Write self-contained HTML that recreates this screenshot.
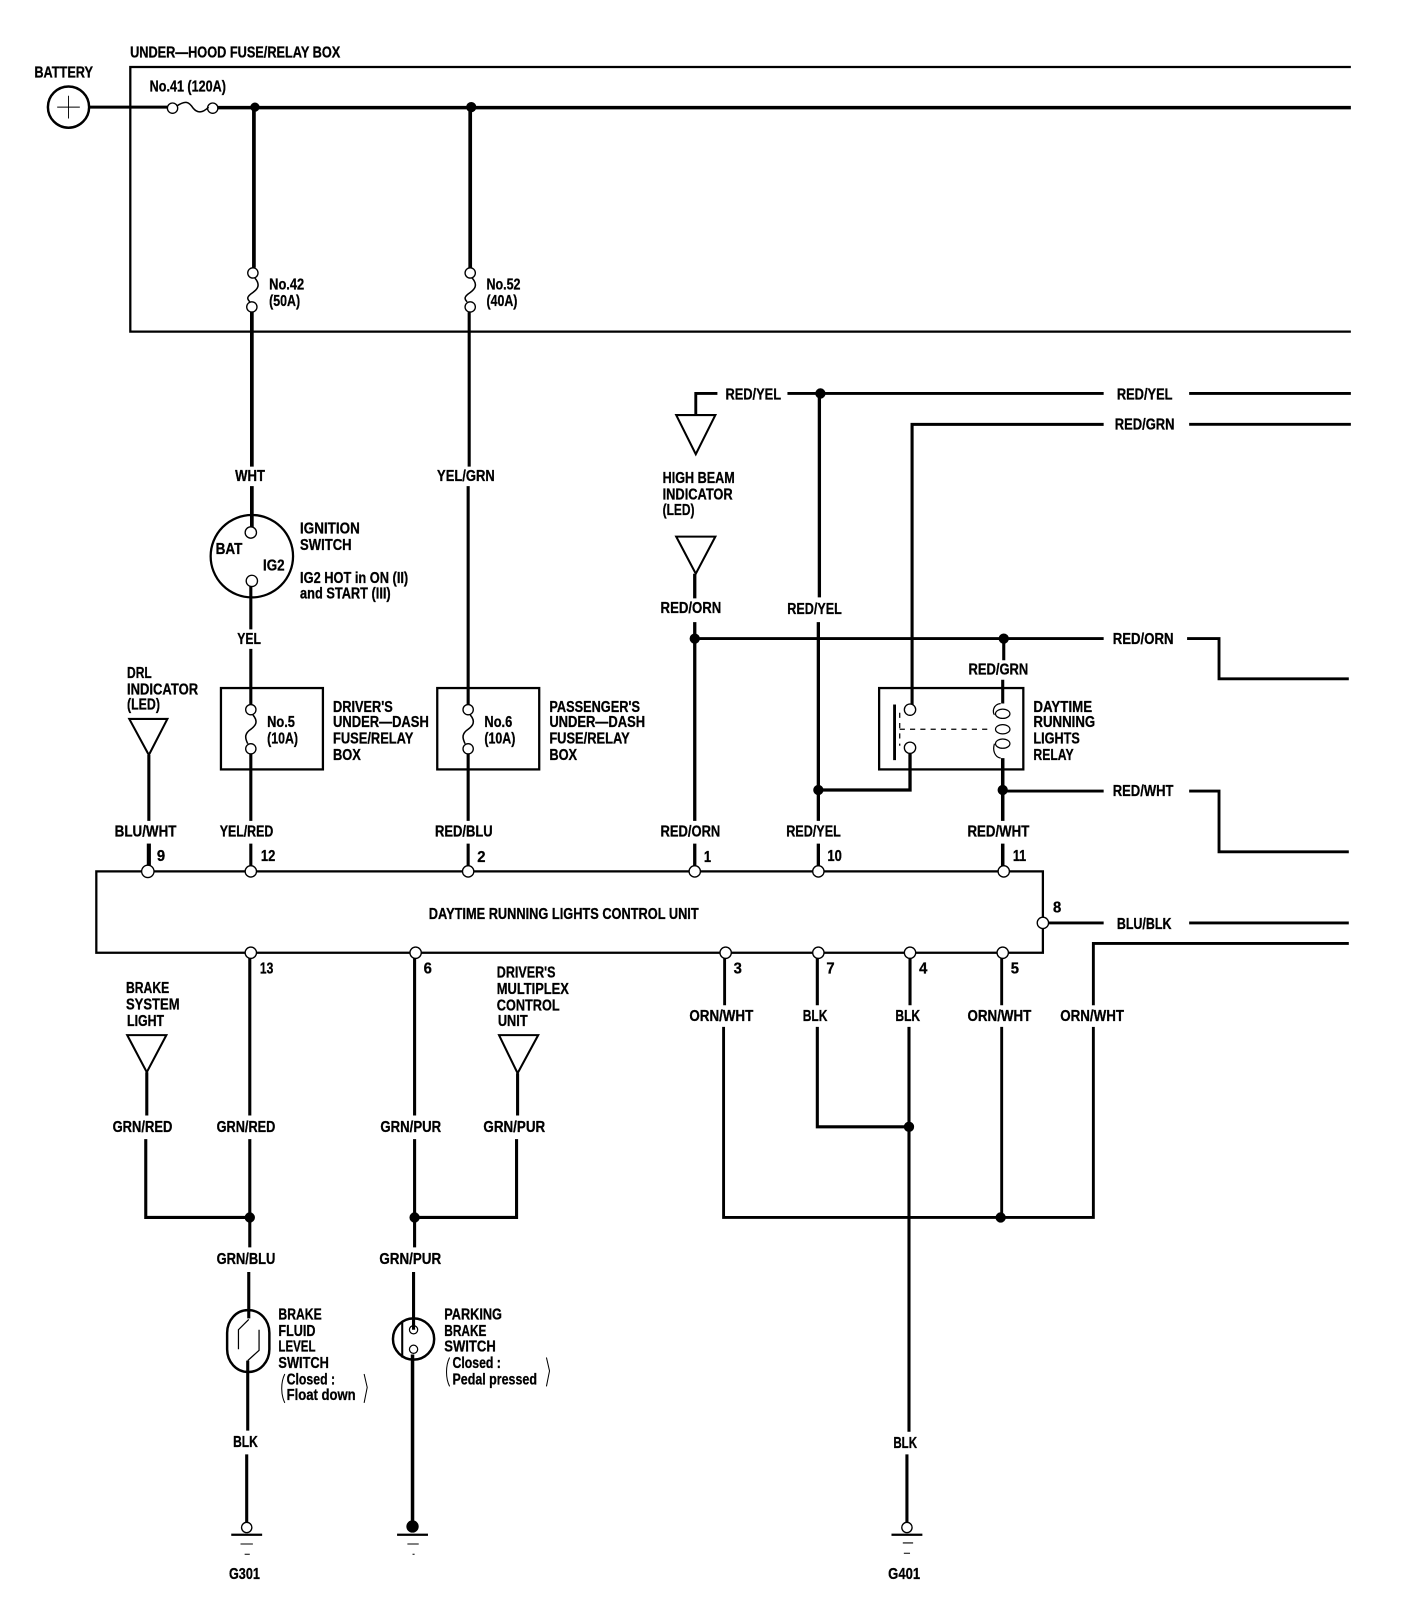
<!DOCTYPE html>
<html><head><meta charset="utf-8"><title>Daytime Running Lights Wiring Diagram</title>
<style>
html,body{margin:0;padding:0;background:#fff}
svg{display:block}
text{font-family:"Liberation Sans",sans-serif;font-weight:bold;font-size:15.5px;fill:#000;stroke:#000;stroke-width:.3}
.t path,.t line,.t polyline,.t polygon,.t circle,.t rect{fill:none;stroke:#000}
</style></head><body>
<svg width="1408" height="1614" viewBox="0 0 1408 1614" xmlns="http://www.w3.org/2000/svg">
<g transform="translate(-0.5 0) scale(1.03)" class="t">
<!-- fuse box -->
<path d="M1312 65H127V322H1312" stroke-width="2.2"/>
<circle cx="67" cy="104" r="20" stroke-width="2.4"/>
<path d="M67 93V115M56 104H78" stroke-width=".9"/>
<path d="M87 104H163" stroke-width="3"/>
<circle cx="168" cy="105" r="5" stroke-width="1.3"/><circle cx="207" cy="105" r="5" stroke-width="1.3"/>
<path d="M172 103C181 97 184 99 188 105C192 110 197 110 203 104" stroke-width="1.5"/>
<path d="M212 104.500H1312" stroke-width="3.4"/>
<g style="fill:#000"><circle cx="248" cy="104" r="4" style="fill:#000"/><circle cx="458" cy="104" r="4.5" style="fill:#000"/></g>
<!-- 42 / 52 -->
<path d="M247 104V260" stroke-width="3.6"/>
<circle cx="246" cy="265" r="5" stroke-width="1.3"/><circle cx="245" cy="298" r="5" stroke-width="1.3"/>
<path d="M248 270C254 277 250 281 246 284C240 288 240 290 243 293" stroke-width="1.5"/>
<path d="M245 303V453M245 472V512" stroke-width="3.6"/>
<path d="M457 104V260" stroke-width="3.6"/>
<circle cx="457" cy="265" r="5" stroke-width="1.3"/><circle cx="457" cy="298" r="5" stroke-width="1.3"/>
<path d="M459 270C465 277 461 281 457 284C451 288 451 290 454 293" stroke-width="1.5"/>
<path d="M456 303V453M455 472V684" stroke-width="3"/>
<!-- ignition -->
<circle cx="245" cy="540" r="40" stroke-width="2.2"/>
<circle cx="244" cy="517" r="5.5" stroke-width="1.3"/><circle cx="245" cy="564" r="5.5" stroke-width="1.3"/>
<path d="M244 569V611M244 630V684" stroke-width="3"/>
<!-- inline boxes -->
<rect x="215" y="668" width="99" height="79" stroke-width="2.2"/>
<rect x="425" y="668" width="99" height="79" stroke-width="2.2"/>
<circle cx="244" cy="689" r="5" stroke-width="1.3"/><circle cx="244" cy="727" r="5" stroke-width="1.3"/>
<path d="M246 694C252 701 248 705 244 708C238 712 238 716 241 722" stroke-width="1.5"/>
<circle cx="455" cy="689" r="5" stroke-width="1.3"/><circle cx="455" cy="727" r="5" stroke-width="1.3"/>
<path d="M457 694C463 701 459 705 455 708C449 712 449 716 452 722" stroke-width="1.5"/>
<path d="M244 732V797M244 819V841M455 732V797M455 819V841" stroke-width="3"/>
<!-- DRL -->
<polygon points="126,698 163,698 145,733" stroke-width="2"/>
<path d="M145 733V797" stroke-width="3"/><path d="M145 819V841" stroke-width="4"/>
<!-- control unit -->
<rect x="94" y="846" width="919" height="79" stroke-width="2.2"/>
<g style="fill:#fff">
<circle cx="144" cy="846" r="6" stroke-width="1.3" style="fill:#fff"/><circle cx="244" cy="846" r="5.5" stroke-width="1.3" style="fill:#fff"/><circle cx="455" cy="846" r="5.5" stroke-width="1.3" style="fill:#fff"/><circle cx="675" cy="846" r="5.5" stroke-width="1.3" style="fill:#fff"/><circle cx="795" cy="846" r="5.5" stroke-width="1.3" style="fill:#fff"/><circle cx="975" cy="846" r="5.5" stroke-width="1.3" style="fill:#fff"/>
<circle cx="244" cy="925" r="5.5" stroke-width="1.3" style="fill:#fff"/><circle cx="404" cy="925" r="5.5" stroke-width="1.3" style="fill:#fff"/><circle cx="705" cy="925" r="5.5" stroke-width="1.3" style="fill:#fff"/><circle cx="795" cy="925" r="5.5" stroke-width="1.3" style="fill:#fff"/><circle cx="884" cy="925" r="5.5" stroke-width="1.3" style="fill:#fff"/><circle cx="974" cy="925" r="5.5" stroke-width="1.3" style="fill:#fff"/>
<circle cx="1013" cy="896" r="5.5" stroke-width="1.3" style="fill:#fff"/>
</g>
<!-- high beam -->
<polygon points="657,403 695,403 676,441" stroke-width="2"/>
<polygon points="657,521 695,521 676,557" stroke-width="2"/>
<path d="M676 403V382H697M765 382H1072M1155 382H1312" stroke-width="2.8"/>
<circle cx="797" cy="382" r="4.5" style="fill:#000"/>
<path d="M796 382V580M795 604V797M795 819V841" stroke-width="3.2"/>
<path d="M675 557V581M675 604V797M675 819V841" stroke-width="3.2"/>
<path d="M675 620H1072" stroke-width="2.8"/>
<circle cx="675" cy="620" r="4.5" style="fill:#000"/><circle cx="975" cy="620" r="4.5" style="fill:#000"/>
<path d="M1153 620H1184V659H1310" stroke-width="2.8"/>
<path d="M1072 412H886V684" stroke-width="3"/><path d="M1155 412H1312" stroke-width="2.8"/>
<!-- relay -->
<rect x="854" y="668" width="140" height="79" stroke-width="2.2"/>
<path d="M869 684V738" stroke-width="2.8"/>
<circle cx="884" cy="689" r="5.5" stroke-width="1.3"/><circle cx="884" cy="726" r="5.5" stroke-width="1.3"/>
<path d="M874 692V724M874 708H964" stroke-width="1.2" stroke-dasharray="5 5"/>
<path d="M884 732V767H795" stroke-width="3.2"/>
<circle cx="795" cy="767" r="4.5" style="fill:#000"/>
<path d="M975 620V641M974 660V683" stroke-width="3"/>
<path d="M972 683C964 684 964 692 966 694M966 722C964 728 966 735 972 736" stroke-width="1.2"/>
<ellipse cx="974" cy="693" rx="7" ry="4.5" stroke-width="1.2" style="fill:none;stroke:#000"/>
<ellipse cx="974" cy="708" rx="7" ry="4.5" stroke-width="1.2" style="fill:none;stroke:#000"/>
<ellipse cx="974" cy="722" rx="7" ry="4.5" stroke-width="1.2" style="fill:none;stroke:#000"/>
<path d="M974 736V797M974 819V841" stroke-width="3.4"/>
<circle cx="974" cy="767" r="4.5" style="fill:#000"/>
<path d="M974 768H1072M1155 768H1184V827H1310" stroke-width="2.8"/>
<path d="M1018 896H1072M1155 896H1310" stroke-width="2.8"/>
<!-- bottom right -->
<path d="M704 930V976M703 997V1182H1062V916H1310" stroke-width="2.8" stroke-linejoin="miter"/>
<path d="M1062 976V997" stroke="#fff" style="stroke:#fff" stroke-width="5"/>
<path d="M794 930V976M794 997V1094H883" stroke-width="3"/>
<circle cx="883" cy="1094" r="4.5" style="fill:#000"/>
<path d="M884 930V976M883 997V1390M881 1412V1478" stroke-width="3"/>
<path d="M973 930V976M973 997V1182" stroke-width="2.8"/>
<circle cx="972" cy="1182" r="4.5" style="fill:#000"/>
<circle cx="881" cy="1483" r="5" stroke-width="1.3"/>
<path d="M866 1490H896" stroke-width="2.2"/><path d="M877 1498H887M878 1508H884" stroke-width="1"/>
<!-- brake -->
<polygon points="124,1005 162,1005 143,1041" stroke-width="2"/>
<path d="M143 1041V1083M142 1106V1182H243" stroke-width="3"/>
<path d="M243 930V1083M243 1106V1211M242 1235V1280" stroke-width="3"/>
<circle cx="243" cy="1182" r="4.5" style="fill:#000"/>
<rect x="221" y="1272" width="41" height="60" rx="20" ry="22" stroke-width="2.4"/>
<path d="M242 1281L232 1291V1310M252 1291V1311L241 1321" stroke-width="1.2"/>
<path d="M241 1321V1389M240 1412V1478" stroke-width="3"/>
<circle cx="240" cy="1483" r="5" stroke-width="1.3"/>
<path d="M225 1490H255" stroke-width="2.2"/><path d="M234 1499H246M238 1509H243" stroke-width="1"/>
<!-- parking -->
<polygon points="485,1005 523,1005 503,1042" stroke-width="2"/>
<path d="M503 1042V1083M502 1106V1182H403" stroke-width="3"/>
<path d="M403 930V1083M403 1106V1211M402 1235V1291" stroke-width="3"/>
<circle cx="403" cy="1182" r="4.5" style="fill:#000"/>
<circle cx="402" cy="1300" r="20" stroke-width="2.4"/>
<path d="M391 1283V1318" stroke-width="2"/>
<circle cx="402" cy="1291" r="4" stroke-width="1.2"/><circle cx="402" cy="1310" r="4" stroke-width="1.2"/>
<path d="M401 1315V1478" stroke-width="3.4"/>
<circle cx="401" cy="1482" r="5.5" style="fill:#000"/>
<path d="M386 1490H416" stroke-width="2.2"/><path d="M396 1499H407M401 1509H403" stroke-width="1"/>
<!-- parens -->
<path d="M277 1334C273 1342 273 1354 277 1362M354 1334L357 1347L354 1362M437 1318C433 1326 433 1338 437 1346M531 1318L534 1331L531 1346" stroke-width="1"/>
</g>
<g transform="translate(-0.7 -1) scale(1.03)" style="font-stretch:condensed">
<text x="127" y="57" textLength="204" lengthAdjust="spacingAndGlyphs">UNDER—HOOD FUSE/RELAY BOX</text>
<text x="34" y="76" textLength="57" lengthAdjust="spacingAndGlyphs">BATTERY</text>
<text x="146" y="90" textLength="74" lengthAdjust="spacingAndGlyphs">No.41 (120A)</text>
<text x="262" y="282" textLength="34" lengthAdjust="spacingAndGlyphs">No.42</text>
<text x="262" y="298" textLength="30" lengthAdjust="spacingAndGlyphs">(50A)</text>
<text x="473" y="282" textLength="33" lengthAdjust="spacingAndGlyphs">No.52</text>
<text x="473" y="298" textLength="30" lengthAdjust="spacingAndGlyphs">(40A)</text>
<text x="229" y="468" textLength="29" lengthAdjust="spacingAndGlyphs">WHT</text>
<text x="425" y="468" textLength="56" lengthAdjust="spacingAndGlyphs">YEL/GRN</text>
<text x="705" y="389" textLength="54" lengthAdjust="spacingAndGlyphs">RED/YEL</text>
<text x="1085" y="389" textLength="54" lengthAdjust="spacingAndGlyphs">RED/YEL</text>
<text x="1083" y="418" textLength="58" lengthAdjust="spacingAndGlyphs">RED/GRN</text>
<text x="644" y="470" textLength="70" lengthAdjust="spacingAndGlyphs">HIGH BEAM</text>
<text x="644" y="486" textLength="68" lengthAdjust="spacingAndGlyphs">INDICATOR</text>
<text x="644" y="501" textLength="31" lengthAdjust="spacingAndGlyphs">(LED)</text>
<text x="292" y="519" textLength="58" lengthAdjust="spacingAndGlyphs">IGNITION</text>
<text x="292" y="535" textLength="50" lengthAdjust="spacingAndGlyphs">SWITCH</text>
<text x="292" y="567" textLength="105" lengthAdjust="spacingAndGlyphs">IG2 HOT in ON (II)</text>
<text x="292" y="582" textLength="88" lengthAdjust="spacingAndGlyphs">and START (III)</text>
<text x="210" y="539" textLength="26" lengthAdjust="spacingAndGlyphs">BAT</text>
<text x="256" y="555" textLength="21" lengthAdjust="spacingAndGlyphs">IG2</text>
<text x="231" y="626" textLength="23" lengthAdjust="spacingAndGlyphs">YEL</text>
<text x="642" y="596" textLength="59" lengthAdjust="spacingAndGlyphs">RED/ORN</text>
<text x="765" y="597" textLength="53" lengthAdjust="spacingAndGlyphs">RED/YEL</text>
<text x="1081" y="626" textLength="59" lengthAdjust="spacingAndGlyphs">RED/ORN</text>
<text x="941" y="656" textLength="58" lengthAdjust="spacingAndGlyphs">RED/GRN</text>
<text x="124" y="659" textLength="24" lengthAdjust="spacingAndGlyphs">DRL</text>
<text x="124" y="675" textLength="69" lengthAdjust="spacingAndGlyphs">INDICATOR</text>
<text x="124" y="690" textLength="32" lengthAdjust="spacingAndGlyphs">(LED)</text>
<text x="260" y="707" textLength="27" lengthAdjust="spacingAndGlyphs">No.5</text>
<text x="260" y="723" textLength="30" lengthAdjust="spacingAndGlyphs">(10A)</text>
<text x="471" y="707" textLength="27" lengthAdjust="spacingAndGlyphs">No.6</text>
<text x="471" y="723" textLength="30" lengthAdjust="spacingAndGlyphs">(10A)</text>
<text x="324" y="692" textLength="58" lengthAdjust="spacingAndGlyphs">DRIVER'S</text>
<text x="324" y="707" textLength="93" lengthAdjust="spacingAndGlyphs">UNDER—DASH</text>
<text x="324" y="723" textLength="78" lengthAdjust="spacingAndGlyphs">FUSE/RELAY</text>
<text x="324" y="739" textLength="27" lengthAdjust="spacingAndGlyphs">BOX</text>
<text x="534" y="692" textLength="88" lengthAdjust="spacingAndGlyphs">PASSENGER'S</text>
<text x="534" y="707" textLength="93" lengthAdjust="spacingAndGlyphs">UNDER—DASH</text>
<text x="534" y="723" textLength="78" lengthAdjust="spacingAndGlyphs">FUSE/RELAY</text>
<text x="534" y="739" textLength="27" lengthAdjust="spacingAndGlyphs">BOX</text>
<text x="1004" y="692" textLength="57" lengthAdjust="spacingAndGlyphs">DAYTIME</text>
<text x="1004" y="707" textLength="60" lengthAdjust="spacingAndGlyphs">RUNNING</text>
<text x="1004" y="723" textLength="45" lengthAdjust="spacingAndGlyphs">LIGHTS</text>
<text x="1004" y="739" textLength="39" lengthAdjust="spacingAndGlyphs">RELAY</text>
<text x="1081" y="774" textLength="59" lengthAdjust="spacingAndGlyphs">RED/WHT</text>
<text x="112" y="813" textLength="60" lengthAdjust="spacingAndGlyphs">BLU/WHT</text>
<text x="214" y="813" textLength="52" lengthAdjust="spacingAndGlyphs">YEL/RED</text>
<text x="423" y="813" textLength="56" lengthAdjust="spacingAndGlyphs">RED/BLU</text>
<text x="642" y="813" textLength="58" lengthAdjust="spacingAndGlyphs">RED/ORN</text>
<text x="764" y="813" textLength="53" lengthAdjust="spacingAndGlyphs">RED/YEL</text>
<text x="940" y="813" textLength="60" lengthAdjust="spacingAndGlyphs">RED/WHT</text>
<text x="153" y="837" textLength="8" lengthAdjust="spacingAndGlyphs">9</text>
<text x="254" y="837" textLength="14" lengthAdjust="spacingAndGlyphs">12</text>
<text x="464" y="838" textLength="8" lengthAdjust="spacingAndGlyphs">2</text>
<text x="684" y="838" textLength="7" lengthAdjust="spacingAndGlyphs">1</text>
<text x="804" y="837" textLength="14" lengthAdjust="spacingAndGlyphs">10</text>
<text x="984" y="837" textLength="13" lengthAdjust="spacingAndGlyphs">11</text>
<text x="1023" y="887" textLength="8" lengthAdjust="spacingAndGlyphs">8</text>
<text x="417" y="893" textLength="262" lengthAdjust="spacingAndGlyphs">DAYTIME RUNNING LIGHTS CONTROL UNIT</text>
<text x="1085" y="903" textLength="53" lengthAdjust="spacingAndGlyphs">BLU/BLK</text>
<text x="253" y="946" textLength="13" lengthAdjust="spacingAndGlyphs">13</text>
<text x="412" y="946" textLength="8" lengthAdjust="spacingAndGlyphs">6</text>
<text x="713" y="946" textLength="8" lengthAdjust="spacingAndGlyphs">3</text>
<text x="803" y="946" textLength="8" lengthAdjust="spacingAndGlyphs">7</text>
<text x="893" y="946" textLength="8" lengthAdjust="spacingAndGlyphs">4</text>
<text x="982" y="946" textLength="8" lengthAdjust="spacingAndGlyphs">5</text>
<text x="483" y="950" textLength="57" lengthAdjust="spacingAndGlyphs">DRIVER'S</text>
<text x="483" y="966" textLength="70" lengthAdjust="spacingAndGlyphs">MULTIPLEX</text>
<text x="483" y="982" textLength="61" lengthAdjust="spacingAndGlyphs">CONTROL</text>
<text x="484" y="997" textLength="29" lengthAdjust="spacingAndGlyphs">UNIT</text>
<text x="123" y="965" textLength="42" lengthAdjust="spacingAndGlyphs">BRAKE</text>
<text x="123" y="981" textLength="52" lengthAdjust="spacingAndGlyphs">SYSTEM</text>
<text x="124" y="997" textLength="36" lengthAdjust="spacingAndGlyphs">LIGHT</text>
<text x="670" y="992" textLength="62" lengthAdjust="spacingAndGlyphs">ORN/WHT</text>
<text x="780" y="992" textLength="24" lengthAdjust="spacingAndGlyphs">BLK</text>
<text x="870" y="992" textLength="24" lengthAdjust="spacingAndGlyphs">BLK</text>
<text x="940" y="992" textLength="62" lengthAdjust="spacingAndGlyphs">ORN/WHT</text>
<text x="1030" y="992" textLength="62" lengthAdjust="spacingAndGlyphs">ORN/WHT</text>
<text x="110" y="1100" textLength="58" lengthAdjust="spacingAndGlyphs">GRN/RED</text>
<text x="211" y="1100" textLength="57" lengthAdjust="spacingAndGlyphs">GRN/RED</text>
<text x="370" y="1100" textLength="59" lengthAdjust="spacingAndGlyphs">GRN/PUR</text>
<text x="470" y="1100" textLength="60" lengthAdjust="spacingAndGlyphs">GRN/PUR</text>
<text x="211" y="1228" textLength="57" lengthAdjust="spacingAndGlyphs">GRN/BLU</text>
<text x="369" y="1228" textLength="60" lengthAdjust="spacingAndGlyphs">GRN/PUR</text>
<text x="271" y="1282" textLength="42" lengthAdjust="spacingAndGlyphs">BRAKE</text>
<text x="271" y="1298" textLength="36" lengthAdjust="spacingAndGlyphs">FLUID</text>
<text x="271" y="1313" textLength="36" lengthAdjust="spacingAndGlyphs">LEVEL</text>
<text x="271" y="1329" textLength="49" lengthAdjust="spacingAndGlyphs">SWITCH</text>
<text x="279" y="1345" textLength="47" lengthAdjust="spacingAndGlyphs">Closed :</text>
<text x="279" y="1360" textLength="67" lengthAdjust="spacingAndGlyphs">Float down</text>
<text x="432" y="1282" textLength="56" lengthAdjust="spacingAndGlyphs">PARKING</text>
<text x="432" y="1298" textLength="41" lengthAdjust="spacingAndGlyphs">BRAKE</text>
<text x="432" y="1313" textLength="50" lengthAdjust="spacingAndGlyphs">SWITCH</text>
<text x="440" y="1329" textLength="47" lengthAdjust="spacingAndGlyphs">Closed :</text>
<text x="440" y="1345" textLength="82" lengthAdjust="spacingAndGlyphs">Pedal pressed</text>
<text x="227" y="1406" textLength="24" lengthAdjust="spacingAndGlyphs">BLK</text>
<text x="868" y="1407" textLength="23" lengthAdjust="spacingAndGlyphs">BLK</text>
<text x="223" y="1534" textLength="30" lengthAdjust="spacingAndGlyphs">G301</text>
<text x="863" y="1534" textLength="31" lengthAdjust="spacingAndGlyphs">G401</text>
</g>
</svg>
</body></html>
